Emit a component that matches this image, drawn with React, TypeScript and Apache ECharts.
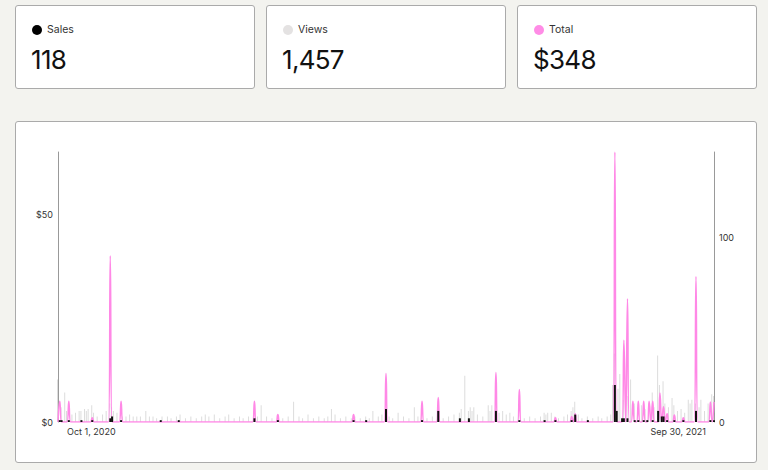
import React, { useEffect, useRef } from "react";
import * as echarts from "echarts";

const dayCount = 365;
const monthNames = ["Jan", "Feb", "Mar", "Apr", "May", "Jun", "Jul", "Aug", "Sep", "Oct", "Nov", "Dec"];

const summaryLabels = ["Sales", "Views", "Total"];
const summaryValues = ["118", "1,457", "$348"];
const summaryColors = ["#000000", "#e4e2e2", "#ff8ce6"];

// Total ($) per day (sparse: day index -> value)
const totalDays = [1, 6, 19, 29, 35, 109, 122, 164, 182, 202, 211, 243, 256, 276, 285, 287, 309, 314, 316, 319, 322, 325, 328, 330, 334, 336, 338, 342, 347, 354, 362, 364];
const totalValues = [5, 5, 1, 40, 5, 5, 1.8, 1.8, 11.7, 5, 5.9, 11.9, 7.8, 1, 1.3, 2, 65, 19.7, 29.7, 5, 5, 5, 5, 5, 7, 3.7, 2, 1.7, 1, 35, 4.8, 4.8];

// Views per day (sparse)
const viewDays = [0, 2, 4, 5, 8, 10, 12, 13, 15, 16, 17, 19, 20, 22, 25, 27, 29, 30, 31, 33, 36, 38, 40, 42, 44, 46, 49, 51, 53, 55, 58, 61, 63, 66, 68, 71, 74, 77, 80, 82, 84, 87, 90, 93, 95, 98, 101, 103, 106, 109, 111, 113, 116, 119, 122, 125, 128, 131, 134, 136, 139, 142, 145, 148, 150, 152, 154, 157, 160, 163, 165, 168, 171, 173, 175, 178, 180, 182, 184, 186, 189, 192, 195, 198, 200, 202, 205, 208, 211, 214, 217, 220, 223, 224, 226, 228, 229, 230, 231, 233, 236, 239, 240, 241, 243, 245, 247, 249, 251, 253, 256, 259, 262, 265, 268, 270, 271, 272, 274, 276, 278, 281, 283, 285, 286, 287, 289, 291, 294, 297, 300, 302, 305, 307, 308, 309, 311, 312, 314, 316, 318, 320, 322, 324, 326, 328, 330, 331, 333, 334, 336, 337, 339, 341, 342, 344, 346, 348, 350, 351, 352, 354, 356, 357, 359, 361, 363, 364];
const viewValues = [23, 8, 16, 6, 4, 5, 6, 6, 7, 6, 7, 9, 5, 3, 4, 6, 10, 8, 6, 5, 3, 3, 4, 3, 3, 3, 6, 3, 3, 2, 3, 3, 2, 3, 4, 2, 3, 2, 3, 4, 3, 4, 2, 3, 4, 2, 3, 2, 3, 6, 3, 9, 3, 2, 4, 2, 3, 11, 3, 2, 4, 2, 3, 2, 3, 7, 4, 2, 3, 2, 3, 2, 3, 2, 6, 3, 4, 8, 3, 2, 5, 3, 2, 8, 3, 4, 2, 3, 5, 2, 3, 4, 5, 7, 25, 6, 8, 6, 8, 4, 3, 9, 6, 9, 12, 5, 6, 4, 5, 3, 4, 2, 3, 2, 3, 5, 4, 5, 5, 3, 2, 3, 4, 6, 8, 11, 4, 2, 3, 2, 3, 2, 3, 4, 20, 37, 18, 26, 12, 14, 23, 10, 8, 9, 7, 10, 16, 8, 36, 20, 22, 10, 8, 13, 9, 6, 7, 5, 12, 10, 12, 10, 8, 12, 6, 10, 15, 14];

// Sales per day (sparse)
const saleDays = [1, 2, 6, 13, 19, 29, 30, 35, 57, 67, 109, 122, 164, 171, 182, 202, 211, 223, 228, 243, 256, 270, 276, 285, 287, 294, 309, 310, 313, 314, 316, 320, 322, 325, 327, 330, 333, 335, 336, 338, 342, 347, 354, 362, 364];
const saleValues = [1, 1, 1, 1, 1, 2, 3, 1, 1, 1, 2, 1, 1, 1, 7, 1, 6, 2, 2, 6, 1, 1, 1, 1, 4, 1, 20, 6, 2, 2, 2, 1, 1, 1, 1, 1, 6, 3, 3, 1, 1, 1, 6, 1, 1];

function buildDaily(days: number[], values: number[]): number[] {
  const out: number[] = new Array(dayCount).fill(0);
  days.forEach((d, i) => {
    out[d] = values[i];
  });
  return out;
}

const categories: string[] = [];
for (let i = 0; i < dayCount; i++) {
  const dt = new Date(Date.UTC(2020, 9, 1 + i));
  categories.push(`${monthNames[dt.getUTCMonth()]} ${dt.getUTCDate()}, ${dt.getUTCFullYear()}`);
}

const FONT = "Inter, 'Noto Sans', sans-serif";

function Chart() {
  const ref = useRef<HTMLDivElement>(null);
  useEffect(() => {
    if (!ref.current) return;
    const chart = echarts.init(ref.current, undefined, { renderer: "svg" });
    const labelStyle = { color: "#333", fontSize: 9, fontFamily: FONT };
    chart.setOption({
      animation: false,
      grid: { left: 42, right: 42, top: 30, bottom: 40 },
      xAxis: {
        type: "category",
        data: categories,
        boundaryGap: false,
        axisLine: { show: false },
        axisTick: { show: false },
        splitLine: { show: false },
        axisLabel: {
          ...labelStyle,
          margin: 5,
          interval: (i: number) => i === 0 || i === dayCount - 1,
          alignMinLabel: "left",
          alignMaxLabel: "right",
          showMinLabel: true,
          showMaxLabel: true,
          formatter: (v: string, i: number) => (i === 0 ? `{l|${v}}` : `{r|${v}}`),
          rich: {
            l: { ...labelStyle, padding: [0, 0, 0, 9] },
            r: { ...labelStyle, padding: [0, 8, 0, 0] },
          },
        },
      },
      yAxis: [
        {
          type: "value",
          min: 0,
          max: 65,
          interval: 50,
          axisLine: { show: true, lineStyle: { color: "#999", width: 1 } },
          axisTick: { show: false },
          splitLine: { show: false },
          axisLabel: { ...labelStyle, margin: 5, showMaxLabel: false, formatter: (v: number) => "$" + v },
        },
        {
          type: "value",
          position: "right",
          min: 0,
          max: 146,
          interval: 100,
          axisLine: { show: true, lineStyle: { color: "#999", width: 1 } },
          axisTick: { show: false },
          splitLine: { show: false },
          axisLabel: { ...labelStyle, margin: 5, showMaxLabel: false },
        },
      ],
      series: [
        {
          name: "Views",
          type: "bar",
          yAxisIndex: 1,
          data: buildDaily(viewDays, viewValues),
          barWidth: 1,
          barGap: "-100%",
          itemStyle: { color: "#dcdcdc" },
          z: 1,
        },
        {
          name: "Total",
          type: "line",
          yAxisIndex: 0,
          data: buildDaily(totalDays, totalValues),
          smooth: 0.5,
          showSymbol: false,
          symbol: "none",
          lineStyle: { color: "#ff88e6", width: 1.5 },
          itemStyle: { color: "#ff88e6" },
          z: 2,
        },
        {
          name: "Sales",
          type: "bar",
          yAxisIndex: 1,
          data: buildDaily(saleDays, saleValues),
          barWidth: 2,
          barGap: "-100%",
          itemStyle: { color: "#111" },
          z: 3,
        },
      ],
    });
    return () => chart.dispose();
  }, []);
  return <div ref={ref} style={{ width: 740, height: 340 }} />;
}

export default function App() {
  const cardLefts = [15, 266, 517];
  return (
    <div style={{ position: "fixed", left: 0, top: 0, width: 768, height: 470, background: "#f3f3ef", fontFamily: FONT, color: "#111" }}>
      {summaryLabels.map((label, i) => (
        <div
          key={label}
          style={{
            position: "absolute",
            left: cardLefts[i],
            top: 5,
            width: 240,
            height: 84,
            boxSizing: "border-box",
            background: "#fff",
            border: "1px solid #aaa",
            borderRadius: 3,
          }}
        >
          <div style={{ position: "absolute", left: 16, top: 19, width: 10, height: 10, borderRadius: 5, background: summaryColors[i] }} />
          <div style={{ position: "absolute", left: 31, top: 16, fontSize: 10.5, lineHeight: "16px", color: "#333" }}>{label}</div>
          <div style={{ position: "absolute", left: 15, top: 38, fontSize: 26, lineHeight: "32px", color: "#111", letterSpacing: -0.7 }}>{summaryValues[i]}</div>
        </div>
      ))}
      <div
        style={{
          position: "absolute",
          left: 15,
          top: 121,
          width: 742,
          height: 342,
          boxSizing: "border-box",
          background: "#fff",
          border: "1px solid #aaa",
          borderRadius: 3,
        }}
      >
        <Chart />
      </div>
    </div>
  );
}
